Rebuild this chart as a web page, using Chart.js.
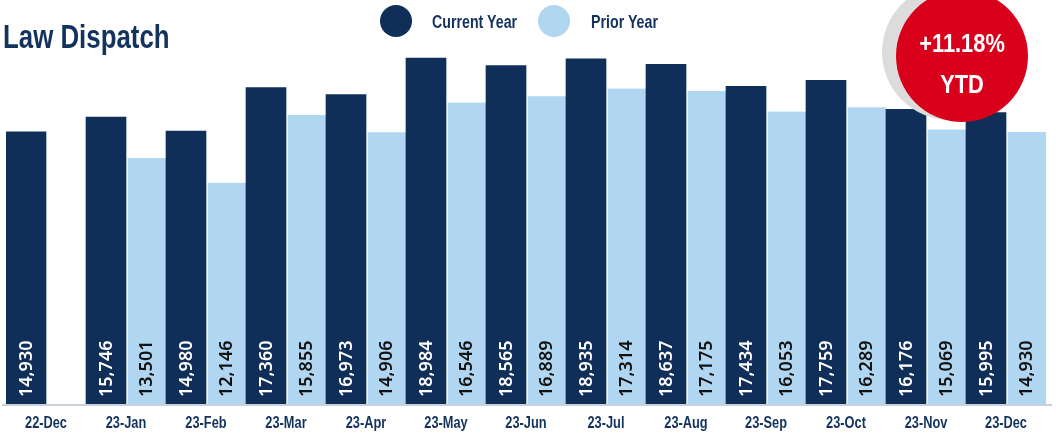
<!DOCTYPE html>
<html>
<head>
<meta charset="utf-8">
<script src="https://cdn.jsdelivr.net/npm/chart.js"></script>
<style>
  body { margin: 0; background: #fff; }
  #wrap { position: relative; width: 1056px; height: 434px; overflow: hidden; }
  #myChart { position: absolute; left: 0; top: 0; }
  .narrow { font-family: "Liberation Sans", Arial, sans-serif; font-weight: bold; line-height: 1; white-space: nowrap; }
  #title { position: absolute; left: 3px; top: 19px; font-size: 34px; color: #13335e; transform: scaleX(0.76); transform-origin: left top; }
  .dot { position: absolute; width: 32px; height: 32px; border-radius: 50%; top: 5px; }
  .legText { position: absolute; top: 13px; font-size: 18px; color: #13335e; transform: scaleX(0.79); transform-origin: left top; }
  #shadow { position: absolute; left: 882px; top: -16px; width: 136px; height: 136px; border-radius: 50%; background: #dcdcdc; }
  #badge { position: absolute; left: 896px; top: -10px; width: 132px; height: 132px; border-radius: 50%; background: #d9001b; color: #fff; text-align: center; }
  #badge .line { position: absolute; left: 0; width: 132px; font-size: 26px; transform: scaleX(0.84); transform-origin: center top; }
</style>
</head>
<body>
<div id="wrap">
  <canvas id="myChart" width="1056" height="434"></canvas>
  <div id="title" class="narrow">Law Dispatch</div>
  <div class="dot" style="left:380px;background:#0f2e58"></div>
  <div class="legText narrow" style="left:432px">Current Year</div>
  <div class="dot" style="left:538px;background:#b1d6f1"></div>
  <div class="legText narrow" style="left:591px">Prior Year</div>
  <div id="shadow"></div>
  <div id="badge" class="narrow">
    <div class="line" style="top:40px">+11.18%</div>
    <div class="line" style="top:81px">YTD</div>
  </div>
</div>
<script>
const navy = '#0f2e58';
const lightBlue = '#b1d6f1';

//------------------data---------------------

let months = ["22-Dec", "23-Jan", "23-Feb", "23-Mar", "23-Apr", "23-May", "23-Jun",
              "23-Jul", "23-Aug", "23-Sep", "23-Oct", "23-Nov", "23-Dec"];
let currentYear = [14930, 15746, 14980, 17360, 16973, 18984, 18565, 18935, 18637, 17434, 17759, 16176, 15995];
let priorYear = [null, 13501, 12146, 15855, 14906, 16546, 16889, 17314, 17175, 16053, 16289, 15069, 14930];

//------------------plugins---------------------

// vertical numbers at the foot of each bar
const barLabels = {
  id: 'barLabels',
  afterDatasetsDraw(chart){
    let ctx = chart.ctx;
    chart.data.datasets.forEach(function(ds, i){
      let meta = chart.getDatasetMeta(i);
      meta.data.forEach(function(bar, j){
        let v = ds.data[j];
        if(v === null) return;
        ctx.save();
        ctx.translate(bar.x, chart.chartArea.bottom - 7);
        ctx.rotate(-Math.PI / 2);
        ctx.font = '600 18px "Noto Sans", sans-serif';
        ctx.fillStyle = i === 0 ? '#ffffff' : '#111111';
        ctx.textAlign = 'left';
        ctx.textBaseline = 'middle';
        ctx.fillText(v.toLocaleString('en-US'), 0, 1);
        ctx.restore();
      });
    });
  }
};

// grey base line plus narrow month labels under it
const baseAxis = {
  id: 'baseAxis',
  afterDatasetsDraw(chart){
    let ctx = chart.ctx;
    let y = chart.chartArea.bottom + 1;
    ctx.save();
    ctx.strokeStyle = '#c9d0da';
    ctx.lineWidth = 2;
    ctx.beginPath();
    ctx.moveTo(2, y);
    ctx.lineTo(1052, y);
    ctx.stroke();

    ctx.fillStyle = '#13335e';
    ctx.font = 'bold 16px "Liberation Sans", Arial, sans-serif';
    ctx.textAlign = 'center';
    ctx.textBaseline = 'alphabetic';
    months.forEach(function(m, i){
      let x = chart.scales.x.getPixelForValue(i);
      ctx.save();
      ctx.translate(x, 428);
      ctx.scale(0.8, 1);
      ctx.fillText(m, 0, 0);
      ctx.restore();
    });
    ctx.restore();
  }
};

//------------------chart---------------------

function createChart(){
  let myChart = document.getElementById("myChart").getContext('2d');

  new Chart(myChart, {
    type: 'bar',
    data: {
      labels: months,
      datasets: [{
        label: "Current Year",
        backgroundColor: navy,
        data: currentYear,
        barPercentage: 1,
        categoryPercentage: 1
      }, {
        label: "Prior Year",
        backgroundColor: lightBlue,
        borderColor: '#ffffff',
        borderWidth: { left: 2, right: 0, top: 0, bottom: 0 },
        borderSkipped: false,
        data: priorYear,
        barPercentage: 1,
        categoryPercentage: 1
      }]
    },
    options: {
      responsive: false,
      animation: false,
      layout: { padding: { left: 6, right: 10, top: 0, bottom: 30 } },
      plugins: {
        legend: { display: false },
        title: { display: false },
        tooltip: { enabled: false }
      },
      scales: {
        x: { display: false },
        y: {
          display: false,
          min: 0,
          max: 22170
        }
      }
    },
    plugins: [barLabels, baseAxis]
  });
}

createChart();
</script>
</body>
</html>
